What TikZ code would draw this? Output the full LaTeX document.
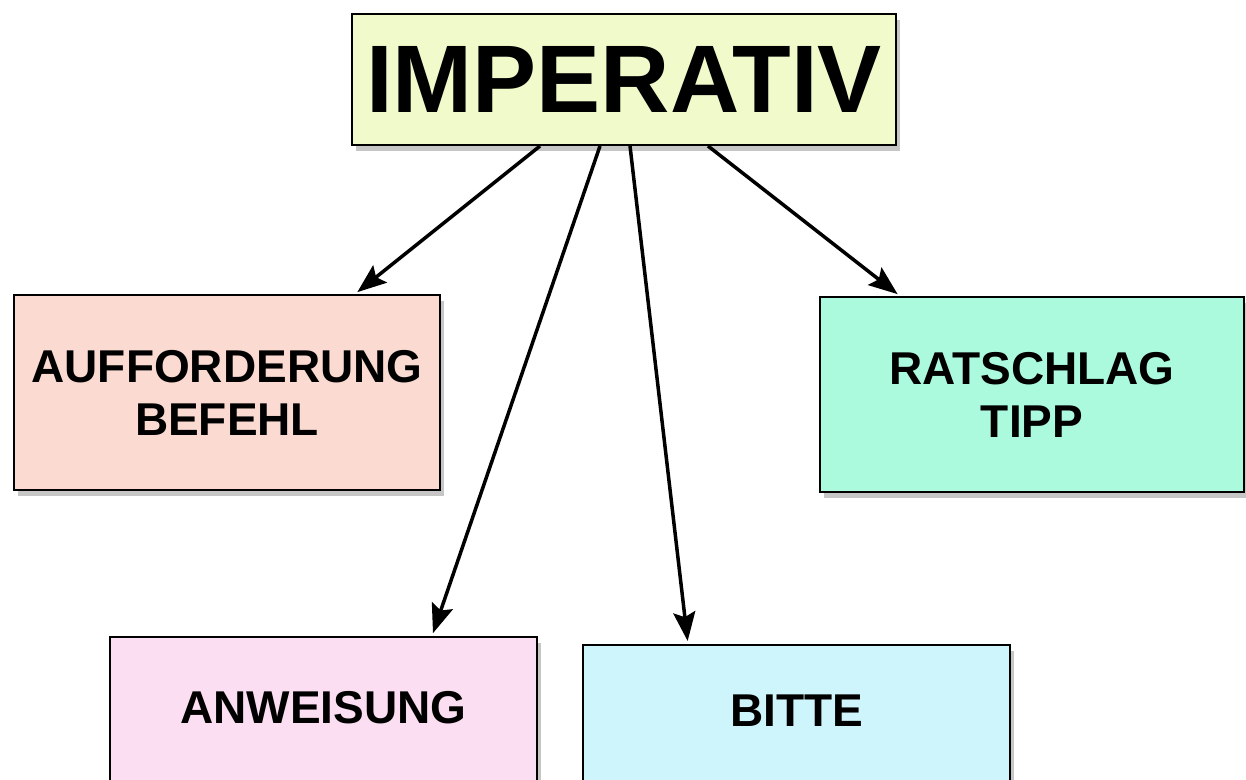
\documentclass[tikz,border=0pt]{standalone}
\usepackage{fontspec}
\setmainfont{Liberation Sans}
\usetikzlibrary{arrows.meta,shadows}
\definecolor{gelb}{RGB}{240,250,202}
\definecolor{lachs}{RGB}{251,218,210}
\definecolor{mint}{RGB}{172,250,222}
\definecolor{rosa}{RGB}{252,222,242}
\definecolor{hellblau}{RGB}{206,245,252}
\tikzset{
  kasten/.style={draw=black, line width=2pt, align=center, inner sep=0pt,
    minimum width=427pt, font=\bfseries\fontsize{46}{53}\selectfont,
    drop shadow={shadow xshift=4pt, shadow yshift=-6pt, opacity=.45}},
  pfeil/.style={line width=3.5pt, shorten >=3pt, -{Stealth[length=29pt,width=22pt,inset=5pt]}}
}
\begin{document}
\begin{tikzpicture}[x=1pt, y=-1pt]
    \useasboundingbox (0,0) rectangle (1246,779);
    % imperativ
    \node [kasten, fill=gelb, minimum width=544pt, minimum height=131pt,
      font=\bfseries\fontsize{96}{100}\selectfont] (imperativ) at (624,79.5) {IMPERATIV};
    % aufforderung
    \node [kasten, fill=lachs, minimum width=426pt, minimum height=195pt] (aufforderung) at (227,392.5) {AUFFORDERUNG\\BEFEHL};
    % ratschlag
    \node [kasten, fill=mint, minimum width=424pt, minimum height=195pt] (ratschlag) at (1032,394.5) {RATSCHLAG\\TIPP};
    % anweisung
    \node [kasten, fill=rosa, minimum height=160pt, text depth=20pt] (anweisung) at (323.5,717) {ANWEISUNG};
    % bitte
    \node [kasten, fill=hellblau, minimum height=150pt, text depth=18pt] (bitte) at (796.5,720) {BITTE};
    % pfeile
    \draw [pfeil] ([xshift=-84pt]imperativ.south) -- ([xshift=128pt]aufforderung.north);
    \draw [pfeil] ([xshift=-24pt]imperativ.south) -- ([xshift=108.5pt]anweisung.north);
    \draw [pfeil] ([xshift=6pt]imperativ.south) -- ([xshift=-108.5pt]bitte.north);
    \draw [pfeil] ([xshift=84pt]imperativ.south) -- ([xshift=-132pt]ratschlag.north);
\end{tikzpicture}
\end{document}
